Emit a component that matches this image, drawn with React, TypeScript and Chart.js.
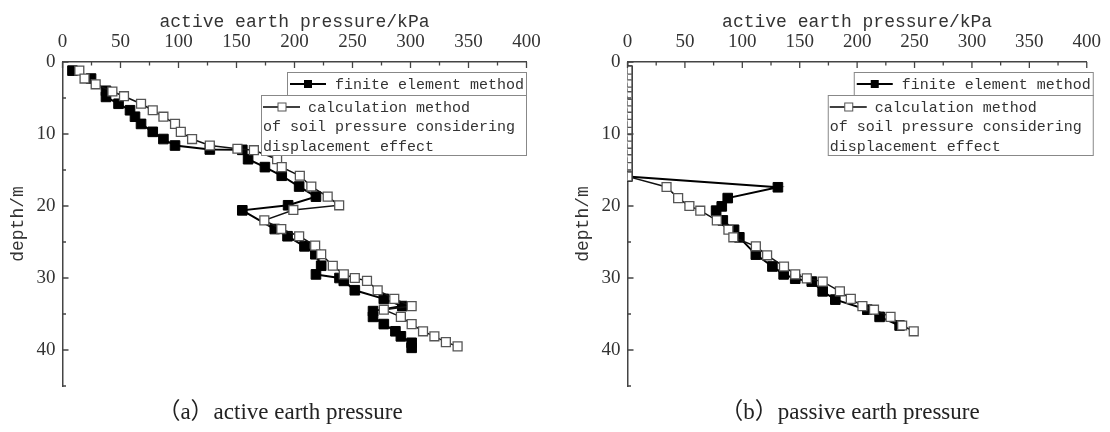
import React, { useEffect, useRef } from "react";
import { Chart, registerables } from "chart.js";

Chart.register(...registerables);

// ---------- axis ticks ----------
const X_TICKS = [0, 50, 100, 150, 200, 250, 300, 350, 400];
const X_MINOR = [25, 75, 125, 175, 225, 275, 325, 375];
const Y_TICKS = [0, 10, 20, 30, 40];
const Y_MINOR = [5, 15, 25, 35, 45];
const X_MIN = 0;
const X_MAX = 400;
const Y_MIN = 0;
const Y_MAX = 45;

const X_TITLE = "active earth pressure/kPa";
const Y_TITLE = "depth/m";
const LEGEND_FEM = "finite element method";
const LEGEND_CALC = ["calculation method", "of soil pressure considering", "displacement effect"];
const CAPTION_A = "（a）active earth pressure";
const CAPTION_B = "（b）passive earth pressure";

// ---------- (a) active earth pressure ----------
const A_FEM_DEPTH = [1.2, 2.3, 4.0, 4.85, 5.8, 6.7, 7.6, 8.6, 9.7, 10.7, 11.6, 12.15, 12.2, 13.5, 14.6, 15.8, 17.3, 18.7, 19.9, 20.6, 23.2, 24.2, 25.6, 26.7, 28.3, 29.5, 30.0, 30.4, 31.7, 32.9, 33.9, 34.6, 35.4, 36.4, 37.4, 38.1, 39.0, 39.7];
const A_FEM_KPA = [8.6, 24.6, 37.5, 37.5, 48.3, 58.2, 62.5, 67.7, 77.8, 87, 97, 127, 155, 160, 174.5, 189, 204, 218.5, 194.5, 155, 183, 194, 208.6, 218, 223, 218.5, 238.8, 242.5, 252, 277, 292.9, 267.7, 267.7, 277, 287, 291.7, 301, 301];

const A_CALC_DEPTH = [1.2, 2.3, 3.1, 4.1, 4.75, 5.8, 6.7, 7.6, 8.6, 9.7, 10.7, 11.6, 12.05, 12.25, 13.5, 14.6, 15.8, 17.3, 18.7, 19.9, 20.55, 22.0, 23.2, 24.2, 25.5, 26.7, 28.3, 29.5, 30.0, 30.4, 31.7, 32.9, 33.9, 34.4, 35.4, 36.4, 37.4, 38.1, 38.9, 39.5];
const A_CALC_KPA = [14.5, 19, 28.6, 43, 53, 67.7, 77.8, 87, 97, 102, 111.7, 127, 150.8, 165, 185, 189, 204.6, 214.5, 228.6, 238.5, 199, 174, 188.6, 204, 217.8, 223, 233, 242.5, 252, 262.5, 271.7, 286, 301, 277, 291.7, 301, 310.8, 320.6, 330.5, 340.6];

// ---------- (b) passive earth pressure ----------
const B_FEM_DEPTH = [1.2, 2.3, 3.1, 4.1, 4.75, 5.8, 6.7, 7.6, 8.6, 9.7, 10.7, 11.6, 12.6, 13.5, 14.6, 15.9, 17.4, 18.9, 20.05, 20.65, 22.0, 23.3, 24.35, 26.75, 28.4, 29.5, 30.1, 30.5, 31.85, 33.0, 34.4, 35.4, 36.6];
const B_FEM_KPA = [0, 0, 0, 0, 0, 0, 0, 0, 0, 0, 0, 0, 0, 0, 0, 0, 131, 87.3, 82.1, 77.2, 83, 92.8, 97.4, 111.8, 126.2, 136, 146.1, 160.5, 170, 181, 208.9, 219.6, 237];

const B_CALC_DEPTH = [1.2, 2.3, 3.1, 4.1, 4.75, 5.8, 6.7, 7.6, 8.6, 9.7, 10.7, 11.6, 12.6, 13.5, 14.6, 15.9, 17.36, 18.9, 20.0, 20.65, 22.0, 23.3, 24.35, 25.6, 26.85, 28.4, 29.5, 30.05, 30.5, 31.85, 32.9, 33.9, 34.4, 35.4, 36.6, 37.4];
const B_CALC_KPA = [0, 0, 0, 0, 0, 0, 0, 0, 0, 0, 0, 0, 0, 0, 0, 0, 34, 44.1, 53.9, 63.4, 77.8, 87.9, 92.2, 111.8, 121.6, 136.3, 146.1, 156.2, 170, 185, 194.5, 204.6, 214.7, 229.1, 239.2, 249.3];

const toPoints = (xs: number[], ys: number[]) => xs.map((v, i) => ({ x: v, y: ys[i] }));

const TEXT_COLOR = "#333";
const AXIS_COLOR = "#444";
const MONO = "'Liberation Mono', 'DejaVu Sans Mono', monospace";
const SERIF = "'Liberation Serif', 'Noto Sans CJK SC', serif";

const decorPlugin = {
  id: "decor",
  afterDraw(chart: any, _args: any, opts: any) {
    const { ctx, chartArea: a, scales } = chart;
    const xs = scales.x;
    const ys = scales.y;
    ctx.save();
    // inward tick marks
    ctx.strokeStyle = AXIS_COLOR;
    ctx.lineWidth = 1.3;
    ctx.beginPath();
    X_TICKS.forEach((v) => {
      const p = xs.getPixelForValue(v);
      ctx.moveTo(p, a.top);
      ctx.lineTo(p, a.top + 6);
    });
    X_MINOR.forEach((v) => {
      const p = xs.getPixelForValue(v);
      ctx.moveTo(p, a.top);
      ctx.lineTo(p, a.top + 3.5);
    });
    Y_TICKS.forEach((v) => {
      const p = ys.getPixelForValue(v);
      ctx.moveTo(a.left, p);
      ctx.lineTo(a.left + 6, p);
    });
    Y_MINOR.forEach((v) => {
      const p = ys.getPixelForValue(v);
      ctx.moveTo(a.left, p);
      ctx.lineTo(a.left + 3.5, p);
    });
    ctx.stroke();

    // legend
    const R = a.right + opts.shift;
    const b1L = R - 240;
    const b2L = R - 266;
    const b1T = 72, b1B = 95, b2B = 156;
    ctx.fillStyle = "#fff";
    ctx.fillRect(b2L, b1B, R - b2L, b2B - b1B);
    ctx.fillRect(b1L, b1T, R - b1L, b1B - b1T);
    ctx.strokeStyle = "#888";
    ctx.lineWidth = 1;
    ctx.strokeRect(b1L + 0.5, b1T + 0.5, R - b1L - 1, b1B - b1T);
    ctx.strokeRect(b2L + 0.5, b1B + 0.5, R - b2L - 1, b2B - b1B - 1);

    // markers
    const y1 = 84;
    ctx.strokeStyle = "#000";
    ctx.lineWidth = 2;
    ctx.beginPath();
    ctx.moveTo(b1L + 3, y1);
    ctx.lineTo(b1L + 39, y1);
    ctx.stroke();
    ctx.fillStyle = "#000";
    ctx.fillRect(b1L + 21 - 4, y1 - 4, 8, 8);

    const y2 = 107;
    ctx.lineWidth = 1.6;
    ctx.beginPath();
    ctx.moveTo(b2L + 2, y2);
    ctx.lineTo(b2L + 39, y2);
    ctx.stroke();
    ctx.fillStyle = "#fff";
    ctx.fillRect(b2L + 21 - 4, y2 - 4, 8, 8);
    ctx.strokeStyle = "#555";
    ctx.lineWidth = 1;
    ctx.strokeRect(b2L + 21 - 4, y2 - 4, 8, 8);

    // legend text
    ctx.fillStyle = TEXT_COLOR;
    ctx.font = `15px ${MONO}`;
    ctx.textBaseline = "middle";
    ctx.textAlign = "left";
    ctx.fillText(LEGEND_FEM, b1L + 48, y1 + 1);
    ctx.fillText(LEGEND_CALC[0], b2L + 47, y2 + 1);
    ctx.fillText(LEGEND_CALC[1], b2L + 2, 127);
    ctx.fillText(LEGEND_CALC[2], b2L + 2, 147);
    ctx.restore();
  },
};

function Panel(props: {
  fem: { x: number; y: number }[];
  calc: { x: number; y: number }[];
  width: number;
  rightPad: number;
  legendShift: number;
}) {
  const ref = useRef<HTMLCanvasElement | null>(null);
  useEffect(() => {
    if (!ref.current) return;
    const chart = new Chart(ref.current, {
      type: "scatter",
      data: {
        datasets: [
          {
            label: "calc",
            data: props.calc,
            showLine: true,
            borderColor: "#111",
            borderWidth: 1.5,
            pointStyle: "rect",
            pointRadius: 6.3,
            pointBackgroundColor: "#fff",
            pointBorderColor: "#555",
            pointBorderWidth: 1.3,
            order: 0,
          },
          {
            label: "fem",
            data: props.fem,
            showLine: true,
            borderColor: "#000",
            borderWidth: 2,
            pointStyle: "rect",
            pointRadius: 6.8,
            pointBackgroundColor: "#000",
            pointBorderColor: "#000",
            pointBorderWidth: 1,
            order: 1,
          },
        ],
      },
      options: {
        responsive: false,
        animation: false,
        devicePixelRatio: 1,
        layout: { padding: { left: 0, top: 0, right: props.rightPad, bottom: 46 } },
        plugins: {
          legend: { display: false },
          tooltip: { enabled: false },
          decor: { shift: props.legendShift },
        } as any,
        scales: {
          x: {
            type: "linear",
            position: "top",
            min: X_MIN,
            max: X_MAX,
            afterBuildTicks: (s: any) => {
              s.ticks = X_TICKS.map((v) => ({ value: v }));
            },
            afterFit: (s: any) => {
              s.height = 62;
            },
            ticks: {
              color: TEXT_COLOR,
              font: { family: SERIF, size: 19 },
              padding: 9,
              maxRotation: 0,
              autoSkip: false,
            },
            grid: { display: true, drawOnChartArea: false, drawTicks: false },
            border: { display: true, color: AXIS_COLOR, width: 1.5 },
            title: {
              display: true,
              text: X_TITLE,
              color: TEXT_COLOR,
              font: { family: MONO, size: 18 },
              padding: { top: 11, bottom: 0 },
            },
          },
          y: {
            type: "linear",
            reverse: true,
            min: Y_MIN,
            max: Y_MAX,
            afterBuildTicks: (s: any) => {
              s.ticks = Y_TICKS.map((v) => ({ value: v }));
            },
            afterFit: (s: any) => {
              s.width = 62.5;
            },
            ticks: {
              color: TEXT_COLOR,
              font: { family: SERIF, size: 19 },
              padding: 7,
              autoSkip: false,
            },
            grid: { display: true, drawOnChartArea: false, drawTicks: false },
            border: { display: true, color: AXIS_COLOR, width: 1.5 },
            title: {
              display: true,
              text: Y_TITLE,
              color: TEXT_COLOR,
              font: { family: MONO, size: 18 },
              padding: { top: 7, bottom: 0 },
            },
          },
        },
      } as any,
      plugins: [decorPlugin],
    });
    return () => chart.destroy();
  }, []);
  return <canvas ref={ref} width={props.width} height={432} style={{ display: "block", width: props.width, height: 432 }} />;
}

export default function App() {
  const captionStyle: React.CSSProperties = {
    position: "absolute",
    top: 399,
    width: 400,
    textAlign: "center",
    fontFamily: SERIF,
    fontSize: 23,
    lineHeight: "26px",
    color: "#222",
    whiteSpace: "nowrap",
  };
  return (
    <div style={{ position: "absolute", left: 0, top: 0, width: 1110, height: 432, background: "#fff", overflow: "hidden" }}>
      <div style={{ position: "absolute", left: 0, top: 0 }}>
        <Panel fem={toPoints(A_FEM_KPA, A_FEM_DEPTH)} calc={toPoints(A_CALC_KPA, A_CALC_DEPTH)} width={555} rightPad={28.5} legendShift={0.5} />
      </div>
      <div style={{ position: "absolute", left: 565, top: 0 }}>
        <Panel fem={toPoints(B_FEM_KPA, B_FEM_DEPTH)} calc={toPoints(B_CALC_KPA, B_CALC_DEPTH)} width={545} rightPad={20} legendShift={7} />
      </div>
      <div style={{ ...captionStyle, left: 280 - 200 }}>{CAPTION_A}</div>
      <div style={{ ...captionStyle, left: 850 - 200 }}>{CAPTION_B}</div>
    </div>
  );
}
